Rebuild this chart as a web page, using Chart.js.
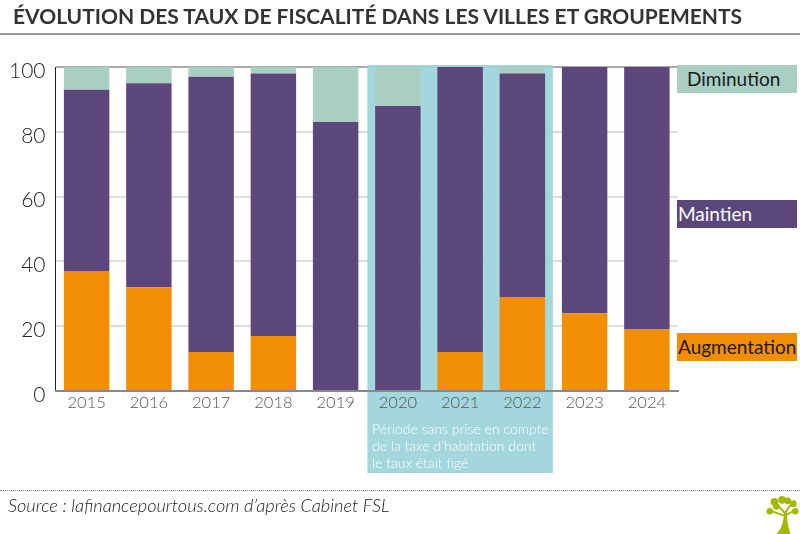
<!DOCTYPE html>
<html lang="fr">
<head>
<meta charset="utf-8">
<title>Évolution des taux de fiscalité</title>
<script src="https://cdn.jsdelivr.net/npm/chart.js@4"></script>
<style>
html, body { margin: 0; padding: 0; background: #fff; }
#page { position: relative; width: 800px; height: 534px; overflow: hidden; font-family: Lato, sans-serif; }
#graph { position: absolute; left: 0; top: 0; width: 800px; height: 534px; }
#title { position: absolute; left: 13px; top: 1px; font-size: 21px; line-height: 30px; font-weight: 700; color: #333; white-space: nowrap; }
#rule { position: absolute; left: 0; top: 33px; width: 800px; height: 2px; background: #999; }
.key { position: absolute; left: 677px; width: 120px; height: 28px; line-height: 28px; font-size: 19px; color: #1a1a1a; white-space: nowrap; }
#note { position: absolute; left: 372px; top: 420px; font-size: 14px; line-height: 17px; font-weight: 300; color: #fff; white-space: nowrap; }
#dots { position: absolute; left: 0; top: 490px; width: 800px; border-top: 1px dotted #888; }
#source { position: absolute; left: 8px; top: 494px; font-size: 18.2px; line-height: 22px; font-style: italic; font-weight: 300; color: #222; white-space: nowrap; }
#logo { position: absolute; left: 765px; top: 496px; }
</style>
</head>
<body>
<div id="page">
    <canvas id="graph" width="800" height="534"></canvas>
    <div id="title">ÉVOLUTION DES TAUX DE FISCALITÉ DANS LES VILLES ET GROUPEMENTS</div>
    <div id="rule"></div>
    <div class="key" style="top:333px;background:#f28e05;text-indent:1px">Augmentation</div>
    <div class="key" style="top:200px;background:#5b4779;color:#fff;text-indent:1px">Maintien</div>
    <div class="key" style="top:65px;background:#a9cfc3;text-indent:10px">Diminution</div>
    <div id="note">Période sans prise en compte<br>de la taxe d’habitation dont<br>le taux était figé</div>
    <div id="dots"></div>
    <div id="source">Source : lafinancepourtous.com d’après Cabinet FSL</div>
    <svg id="logo" width="34" height="38" viewBox="0 0 36 40">
        <path fill="#a3b800" d="M12 40 C18 34 20 26 20 17 L23 17 C23 26 25 34 27 40 Z"/>
        <path fill="none" stroke="#a3b800" stroke-width="2" d="M21 21 L7 16 M21 21 L31 15 M21 18 L12 8 M21 18 L28 8"/>
        <circle cx="5" cy="16" r="3.4" fill="#a3b800"/>
        <circle cx="32" cy="16" r="3.4" fill="#a3b800"/>
        <circle cx="10" cy="6" r="4" fill="#a3b800"/>
        <circle cx="18" cy="4" r="4" fill="#a3b800"/>
        <circle cx="24" cy="5" r="3.6" fill="#a3b800"/>
        <circle cx="30" cy="8" r="3.6" fill="#a3b800"/>
        <circle cx="12" cy="11" r="3.4" fill="#a3b800"/>
    </svg>
</div>
<script>
// =========================== Data
const years = ['2015', '2016', '2017', '2018', '2019', '2020', '2021', '2022', '2023', '2024']
const augmentation = [37, 32, 12, 17, 0, 0, 12, 29, 24, 19]
const maintien = [56, 63, 85, 81, 83, 88, 88, 69, 76, 81]
const diminution = [7, 5, 3, 2, 17, 12, 0, 2, 0, 0]
const bandYears = ['2020', '2022']

// =========================== Band behind the bars
const bandPlugin = {
    id: 'band',
    beforeDatasetsDraw(chart){
        const c = chart.ctx
        const x = chart.scales.x
        const step = x.getPixelForValue(1) - x.getPixelForValue(0)
        const left = x.getPixelForValue(years.indexOf(bandYears[0])) - step * 0.49
        const right = x.getPixelForValue(years.indexOf(bandYears[1])) + step * 0.49
        const top = chart.scales.y.getPixelForValue(100) - 2
        c.save()
        c.fillStyle = 'rgba(157,212,219,0.94)'
        c.fillRect(left, top, right - left, 473 - top)
        c.restore()
    }
}

function dash(){
    new Chart(document.getElementById('graph'), {
        type: 'bar',
        data: {
            labels: years,
            datasets: [{
                label: 'Augmentation',
                data: augmentation,
                backgroundColor: '#f28e05'
            },{
                label: 'Maintien',
                data: maintien,
                backgroundColor: '#5b4779'
            },{
                label: 'Diminution',
                data: diminution,
                backgroundColor: '#a9cfc3'
            }]
        },
        options: {
            responsive: false,
            animation: false,
            layout: { padding: { left: 0, right: 122, top: 67, bottom: 0 } },
            datasets: { bar: { categoryPercentage: 1, barPercentage: 0.73 } },
            scales: {
                x: {
                    stacked: true,
                    afterFit(axis){ axis.height = 143 },
                    grid: { display: false },
                    border: { color: '#888', width: 2, z: 1 },
                    ticks: { z: 1, color: '#555', padding: -6, font: { family: 'Lato', size: 16.5, weight: '300' }, maxRotation: 0 }
                },
                y: {
                    stacked: true,
                    min: 0,
                    max: 100,
                    afterFit(axis){ axis.width = 55.5 },
                    grid: {
                        drawTicks: false,
                        color: ctx => ctx.tick.value === 100 ? '#aaa' : '#ddd',
                        lineWidth: 2
                    },
                    border: { color: '#222', width: 1 },
                    ticks: { stepSize: 20, color: '#222', padding: 10, labelOffset: 4, font: { family: 'Lato', size: 21, weight: '300' } }
                }
            },
            plugins: {
                legend: { display: false },
                tooltip: { enabled: false }
            }
        },
        plugins: [bandPlugin]
    })
}

dash()
</script>
</body>
</html>
